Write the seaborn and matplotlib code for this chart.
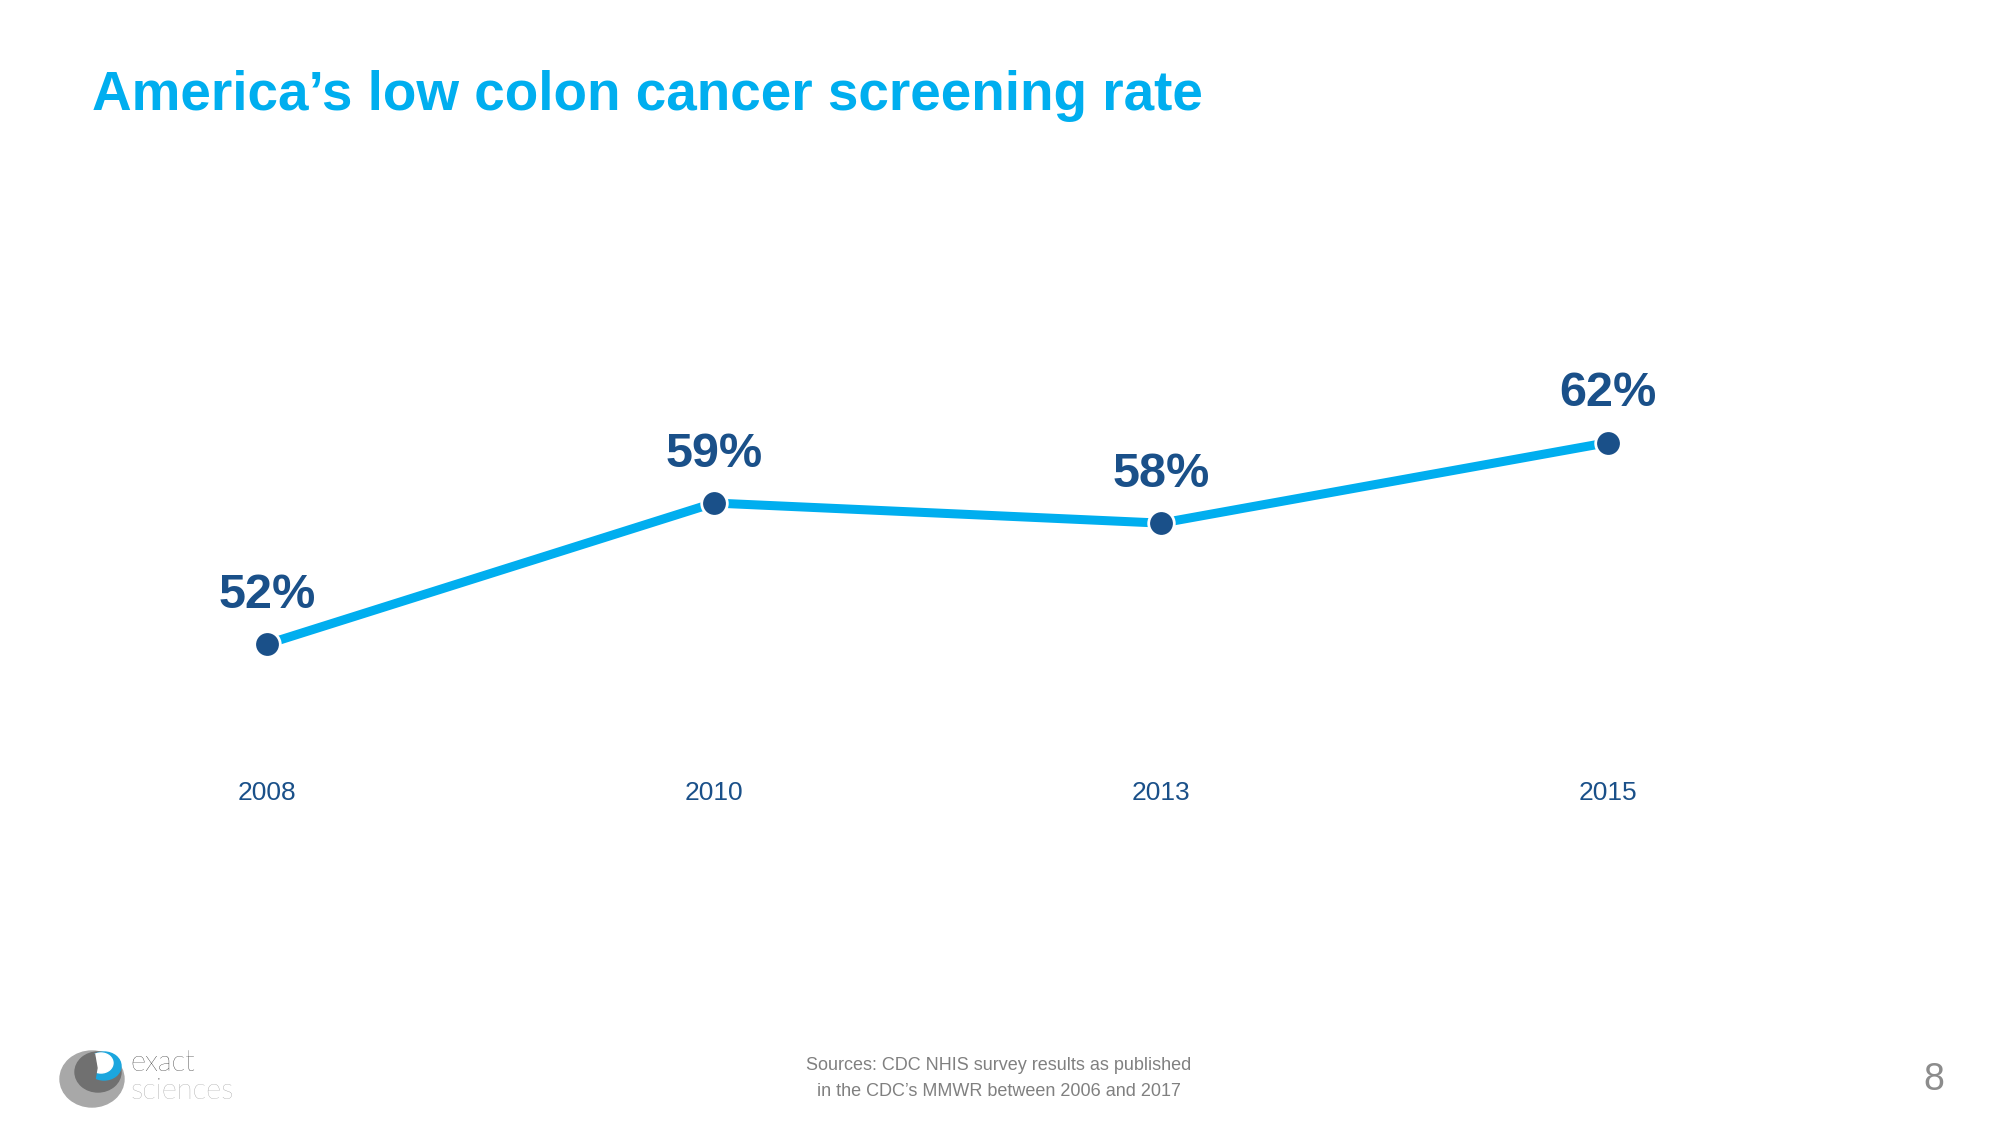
import seaborn as sns
import pandas as pd
import matplotlib.pyplot as plt
from matplotlib.patches import Ellipse, Wedge
from matplotlib import font_manager

# Datos del grafico
years = ['2008', '2010', '2013', '2015']
rates = [52, 59, 58, 62]
labels = ['52%', '59%', '58%', '62%']

data = pd.DataFrame({'pos': range(len(years)), 'year': years, 'rate': rates})

cyan = '#00AEEF'
navy = '#1A5089'
gray = '#808080'

names = {f.name for f in font_manager.fontManager.ttflist}
narrow = 'Liberation Sans Narrow' if 'Liberation Sans Narrow' in names else 'Liberation Sans'

sns.set_style('white')
plt.rcParams['font.family'] = [narrow, 'DejaVu Sans']

fig = plt.figure(figsize=(20, 11.25), dpi=100)
ax = fig.add_axes([0.02175, 1 - 700 / 1125, 0.894, 450 / 1125])

sns.lineplot(data=data, x='pos', y='rate', color=cyan, linewidth=6.5, ax=ax, zorder=2)
sns.scatterplot(data=data, x='pos', y='rate', color=navy, s=340, edgecolor='white',
                linewidth=2, ax=ax, zorder=3)

for x, y, lab in zip(data['pos'], data['rate'], labels):
    ax.annotate(lab, (x, y), xytext=(0, 26), textcoords='offset points',
                ha='center', va='baseline', fontsize=35, fontweight='bold', color=navy)

ax.set_xlim(-0.5, 3.5)
ax.set_ylim(49.22, 71.56)
ax.set_xticks(data['pos'])
ax.set_xticklabels(years, fontsize=19, color=navy)
ax.tick_params(axis='x', length=0, pad=58)
ax.set_yticks([])
ax.set_xlabel('')
ax.set_ylabel('')
sns.despine(ax=ax, left=True, bottom=True)

# Titulo
fig.text(92 / 2000, 1 - 110 / 1125, 'America\u2019s low colon cancer screening rate',
         fontsize=39.5, fontweight='bold', color=cyan, ha='left', va='baseline')

# Fuente
fig.text(999 / 2000, 1 - 1065 / 1125, 'Sources: CDC NHIS survey results as published',
         fontsize=13, color=gray, ha='center', va='center')
fig.text(999 / 2000, 1 - 1092 / 1125, 'in the CDC\u2019s MMWR between 2006 and 2017',
         fontsize=13, color=gray, ha='center', va='center')

# Numero de pagina
fig.text(1934 / 2000, 1 - 1080 / 1125, '8', fontsize=27, color='#8C8C8C',
         ha='center', va='center')

# Logo
lax = fig.add_axes([0, 0, 1, 1], zorder=-1)
lax.set_xlim(0, 2000)
lax.set_ylim(1125, 0)
lax.axis('off')
lax.add_patch(Ellipse((92, 1079), 64, 56, color='#A8A8A8'))
lax.add_patch(Ellipse((98, 1072), 46, 40, color='#707070'))
lax.add_patch(Ellipse((104, 1066), 34, 28, color='#1BA6DE'))
lax.add_patch(Ellipse((101, 1063), 24, 20, color='white'))
lax.add_patch(Wedge((97, 1068), 14, 100, 260, color='#707070'))
lax.text(130, 1071, 'exact', fontsize=21, color='black', family=['Lato', 'DejaVu Sans'],
         fontweight='light', ha='left', va='baseline')
lax.text(130, 1099, 'sciences', fontsize=21, color='#8E8E8E', family=['Lato', 'DejaVu Sans'],
         fontweight='light', ha='left', va='baseline')

fig.savefig('out.png', dpi=100, facecolor='white')
